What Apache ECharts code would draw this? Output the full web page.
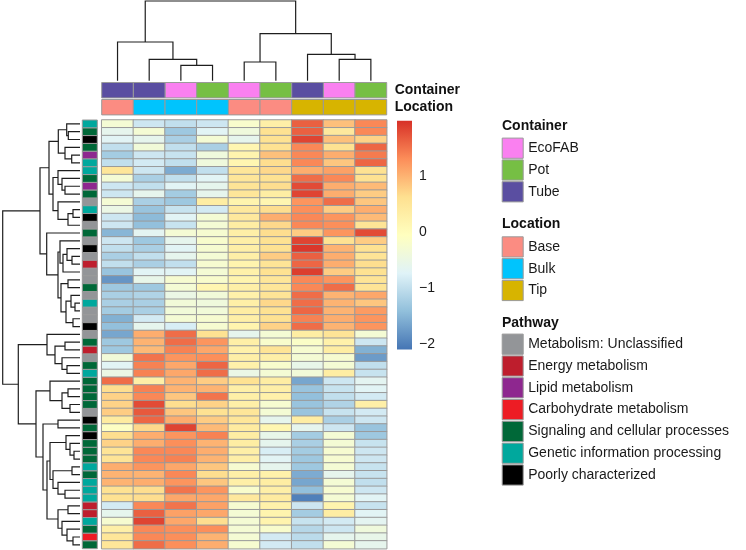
<!DOCTYPE html>
<html><head><meta charset="utf-8">
<script src="https://cdn.jsdelivr.net/npm/echarts@6/dist/echarts.min.js"></script>
<style>html,body{margin:0;padding:0;background:#fff}#c{width:746px;height:550px}</style>
</head><body><div id="c"></div>
<script>
const FONT = 'Liberation Sans, Arial, Helvetica, sans-serif';

// ---- data ----
const columns = ['Tube_Base','Tube_Bulk','EcoFAB_Bulk','Pot_Bulk','EcoFAB_Base','Pot_Base','Tube_Tip','EcoFAB_Tip','Pot_Tip'];
const colContainer = ['Tube','Tube','EcoFAB','Pot','EcoFAB','Pot','Tube','EcoFAB','Pot'];
const colLocation = ['Base','Bulk','Bulk','Bulk','Base','Base','Tip','Tip','Tip'];
const annotRows = ['Container','Location'];

const containerNames = ['EcoFAB','Pot','Tube'];
const containerColors = ['#FA80F0','#76BF44','#5A4EA1'];
const locationNames = ['Base','Bulk','Tip'];
const locationColors = ['#FB8C82','#00C4FD','#D7B400'];
const pathwayNames = ['Metabolism: Unclassified','Energy metabolism','Lipid metabolism','Carbohydrate metabolism','Signaling and cellular processes','Genetic information processing','Poorly characterized'];
const pathwayColors = ['#939598','#BE1E2D','#8E278F','#ED1C24','#006838','#00A89D','#000000'];

// pathway index of each heatmap row (top to bottom)
const rowPathway = [5,4,6,4,2,5,5,4,2,4, 0,5,6,0,4,0,6,0,1,0, 0,4,0,5,0,0,6,0,4,1, 0,4,5,4,4,4,4,0,6,4, 6,4,4,4,5,4,5,5,5,1, 1,5,4,3,4];

// scaled values, one row per feature, columns in display order
const heatValues = [
 [-0.3,-0.9,-1.0,-0.9,-0.2,0.3,1.65,0.9,1.35],
 [-0.6,-0.3,-1.3,-0.7,-0.4,0.6,1.65,0.45,1.35],
 [-0.7,-0.6,-1.2,-0.3,-0.6,0.6,1.85,0.9,0.75],
 [-1.0,-0.35,-1.0,-1.2,0.15,0.6,1.35,0.6,1.6],
 [-1.25,-0.9,-0.95,-0.4,0.2,0.9,1.35,1.05,1.45],
 [-1.0,-0.85,-1.0,-0.4,0.15,0.65,1.35,0.85,1.6],
 [0.5,-0.9,-1.6,-1.0,0.5,0.7,1.05,1.15,0.6],
 [-0.3,-1.2,-1.0,-0.7,0.5,0.6,1.55,1.35,0.6],
 [-0.9,-1.0,-0.7,-0.6,0.55,0.65,1.8,1.05,0.95],
 [-0.9,-0.6,-1.25,-0.6,0.5,0.35,1.85,1.05,0.8],
 [-0.3,-1.2,-1.3,0.35,0.2,0.15,1.25,1.55,0.85],
 [-0.5,-1.35,-0.95,-0.85,0.45,0.65,1.3,0.8,1.05],
 [-0.9,-1.45,-0.7,-0.3,0.45,1.05,1.35,1.25,0.95],
 [-0.9,-1.4,-0.95,-0.3,0.35,0.7,1.35,1.3,0.55],
 [-1.5,-0.65,-0.3,-0.25,0.3,0.65,0.8,1.25,1.8],
 [-0.9,-1.3,-0.6,-0.2,0.3,0.6,1.85,0.6,0.8],
 [-1.0,-1.2,-0.7,-0.25,0.3,0.6,1.95,1.0,0.6],
 [-1.2,-1.0,-0.6,-0.3,0.3,0.8,1.65,1.05,0.55],
 [-1.0,-1.2,-1.0,-0.25,0.2,0.55,1.6,1.05,0.65],
 [-1.35,-0.7,-0.7,-0.3,0.25,0.6,1.9,0.8,0.6],
 [-1.8,-0.55,-0.25,-0.2,0.2,0.5,1.35,1.25,0.55],
 [-1.3,-1.3,-0.3,0.15,0.3,0.5,1.35,1.55,0.55],
 [-1.2,-1.15,-0.5,-0.35,0.25,0.55,1.55,1.0,1.1],
 [-1.2,-1.2,-0.35,-0.4,0.3,0.7,1.55,1.0,0.85],
 [-1.25,-1.2,-0.35,-0.35,0.35,0.6,1.6,1.0,1.2],
 [-1.55,-0.85,-0.3,-0.25,0.3,0.6,1.4,1.05,1.25],
 [-1.4,-0.6,-0.8,-0.25,0.2,0.75,1.55,1.0,1.25],
 [-1.65,1.05,1.55,0.6,-0.6,-0.3,0.35,0.55,-0.3],
 [-1.3,1.0,1.55,1.25,0.3,-0.2,-0.15,0.25,-0.9],
 [-1.3,0.95,1.4,1.1,0.25,0.55,-0.25,0.35,-1.55],
 [-0.35,1.5,1.25,1.3,0.3,0.3,-0.3,-0.25,-1.75],
 [-0.7,1.4,1.1,1.6,0.25,-0.2,-0.55,-0.3,-1.0],
 [-0.5,1.4,1.1,1.55,-0.5,-0.3,-0.35,0.35,-0.95],
 [1.55,0.3,1.0,0.8,0.6,0.35,-1.65,-0.9,-0.65],
 [0.65,1.4,1.0,1.0,0.3,0.3,-1.35,-0.95,-0.7],
 [0.75,1.35,0.85,1.5,0.3,0.25,-1.4,-1.0,-0.85],
 [0.75,1.8,0.65,0.75,0.3,-0.25,-1.35,-1.15,0.3],
 [0.8,1.7,0.85,0.6,0.5,-0.3,-1.35,-0.95,-0.85],
 [0.4,1.6,1.05,0.8,0.5,-0.6,0.35,-1.2,-0.9],
 [-0.1,0.7,1.85,0.95,0.4,0.15,-0.6,-0.9,-1.35],
 [0.65,1.05,1.25,1.4,0.35,-0.55,-1.25,-0.3,-1.3],
 [0.75,1.05,1.3,1.0,0.35,-0.6,-1.2,-0.3,-0.95],
 [0.55,1.35,1.35,1.05,0.3,-0.8,-1.25,-0.25,-0.9],
 [0.55,1.35,1.4,1.0,0.3,-0.7,-1.3,-0.25,-0.9],
 [1.05,1.25,1.1,0.85,-0.25,-0.6,-1.3,-0.3,-0.95],
 [1.0,1.0,1.35,0.65,0.3,0.25,-1.6,-0.6,-0.95],
 [1.0,1.05,1.25,0.85,0.3,0.35,-1.65,-0.3,-1.0],
 [0.6,0.65,1.5,1.25,-0.2,0.3,-1.4,-0.25,-0.9],
 [0.6,0.65,1.1,1.1,0.45,0.4,-2.0,-0.3,-0.7],
 [-0.85,1.35,1.5,1.15,-0.25,0.25,-0.9,0.2,-0.95],
 [-0.6,1.65,1.15,1.1,-0.3,0.2,-1.25,0.35,-0.7],
 [-0.25,1.85,1.1,0.65,-0.3,0.2,-0.95,-0.85,-0.65],
 [0.3,1.35,1.3,1.3,-0.3,-0.2,-1.1,-0.9,-0.4],
 [0.5,1.35,1.3,1.0,-0.3,-0.85,-1.05,-0.6,-0.55],
 [0.5,1.55,1.3,1.05,-0.25,-0.85,-1.0,-0.3,-0.6]
];

const colorMin = -2.1, colorMax = 2.0;
const colorTicks = [-2, -1, 0, 1];
const scaleColors = ['#4575B4','#91BFDB','#E0F3F8','#FFFFBF','#FEE090','#FC8D59','#D73027'];

// dendrograms: [mergeHeight, left, right]; leaves are 1-based positions
const colTree = [79.7, [38.7, 1, [21.4, 2, [15.4, 3, 4]]], [47, [18.7, 5, 6], [26.4, 7, [21.4, 8, 9]]]];
const rowTree =
[77.3,
  [40,
    [31,
      [21.7, [13.3, 1, [11.7, 2, 3]], [15, 4, [8.3, 5, 6]]],
      [27, [22, 7, [18, 8, [15, 9, 10]]], [22, 11, [12, [7, 12, 13], 14]]]],
    [33.3, 15,
      [22,
        [20, 16, [17, [13, 17, [8, 18, 19]], 20]],
        [19, [12, 21, 22], [14, [9, 23, [5, 24, 25]], [7, 26, 27]]]]]],
  [61.7,
    [33, 28, [25, [15, 29, 30], [18, 31, [13, 32, 33]]]],
    [44,
      [30, 34, [18, [12, 35, 36], [10, 37, 38]]],
      [37, [22, 39, 40],
        [33,
          [30, [14, 41, [10, 42, [6, 43, 44]]], [27, [8, 45, 46], [22, 47, [15, 48, 49]]]],
          [22, [12, 50, 51], [18, 52, [13, 53, [7, 54, 55]]]]]]]]];

// ---- build ----
function flatten(node, out) {
  if (typeof node === 'number') return {pos: node - 0.5, h: 0};
  const a = flatten(node[1], out), b = flatten(node[2], out);
  out.push([node[0], a.pos, a.h, b.pos, b.h]);
  return {pos: (a.pos + b.pos) / 2, h: node[0]};
}
const colSegs = []; flatten(colTree, colSegs);
const rowSegs = []; flatten(rowTree, rowSegs);

const heatData = [];
heatValues.forEach((row, r) => row.forEach((v, c) => heatData.push([c, r, v])));
const rowNames = heatValues.map((_, i) => 'r' + (i + 1));

const LINE = '#1e1e1e';
function colDendro(params, api) {
  const h = api.value(0), p1 = api.value(1), h1 = api.value(2), p2 = api.value(3), h2 = api.value(4);
  return {type: 'polyline', shape: {points: [api.coord([p1, h1]), api.coord([p1, h]), api.coord([p2, h]), api.coord([p2, h2])]},
    style: {stroke: LINE, lineWidth: 1.2, fill: null}};
}
function rowDendro(params, api) {
  const h = api.value(0), p1 = api.value(1), h1 = api.value(2), p2 = api.value(3), h2 = api.value(4);
  return {type: 'polyline', shape: {points: [api.coord([h1, p1]), api.coord([h, p1]), api.coord([h, p2]), api.coord([h2, p2])]},
    style: {stroke: LINE, lineWidth: 1.2, fill: null}};
}
function colAnnotCell(params, api) {
  const c = api.value(0), r = api.value(1);
  const a = api.coord([c, r]), b = api.coord([c + 1, r]);
  const bh = api.size([0, 1])[1];
  return {type: 'rect', shape: {x: a[0], y: a[1] - bh / 2 + 0.8, width: b[0] - a[0], height: bh - 1.6},
    style: {fill: api.visual('color'), stroke: '#9a9a9a', lineWidth: 1}};
}
function rowAnnotCell(params, api) {
  const r = api.value(1);
  const a = api.coord([0, r]), b = api.coord([1, r + 1]);
  return {type: 'rect', shape: {x: a[0], y: a[1], width: b[0] - a[0], height: b[1] - a[1]},
    style: {fill: api.visual('color'), stroke: '#9a9a9a', lineWidth: 1}};
}

const series = [];
series.push({
  type: 'heatmap', xAxisIndex: 0, yAxisIndex: 0, data: heatData,
  itemStyle: {borderColor: '#9a9a9a', borderWidth: 1},
  emphasis: {disabled: true}, progressive: 0
});
containerNames.forEach((n, i) => series.push({
  type: 'custom', name: n, xAxisIndex: 1, yAxisIndex: 1, renderItem: colAnnotCell,
  itemStyle: {color: containerColors[i]},
  data: colContainer.map((v, c) => v === n ? [c, 0] : null).filter(d => d)
}));
locationNames.forEach((n, i) => series.push({
  type: 'custom', name: n, xAxisIndex: 1, yAxisIndex: 1, renderItem: colAnnotCell,
  itemStyle: {color: locationColors[i]},
  data: colLocation.map((v, c) => v === n ? [c, 1] : null).filter(d => d)
}));
pathwayNames.forEach((n, i) => series.push({
  type: 'custom', name: n, xAxisIndex: 2, yAxisIndex: 2, renderItem: rowAnnotCell,
  itemStyle: {color: pathwayColors[i]},
  data: rowPathway.map((v, r) => v === i ? [0, r] : null).filter(d => d)
}));
series.push({type: 'custom', xAxisIndex: 3, yAxisIndex: 3, renderItem: colDendro, data: colSegs, silent: true});
series.push({type: 'custom', xAxisIndex: 4, yAxisIndex: 4, renderItem: rowDendro, data: rowSegs, silent: true});
series.push({
  type: 'custom', xAxisIndex: 5, yAxisIndex: 5, silent: true, data: [[0, colorMin, colorMax]],
  renderItem: (params, api) => {
    const top = api.coord([0, api.value(2)]), bot = api.coord([1, api.value(1)]);
    const stops = scaleColors.slice().reverse().map((c, i) => ({offset: i / (scaleColors.length - 1), color: c}));
    return {type: 'rect', shape: {x: top[0], y: top[1], width: bot[0] - top[0], height: bot[1] - top[1]},
      style: {fill: new echarts.graphic.LinearGradient(0, 0, 0, 1, stops)}};
  }
});

const hid = {show: false};
const legendCommon = {
  orient: 'vertical', left: 501.7, padding: 0, itemWidth: 21, itemHeight: 20.2, itemGap: 0.6,
  icon: 'rect', selectedMode: false,
  itemStyle: {borderColor: '#9a9a9a', borderWidth: 1},
  textStyle: {fontSize: 14, color: '#1a1a1a', fontFamily: FONT}
};
const titleStyle = {fontSize: 14, fontWeight: 'bold', color: '#111', fontFamily: FONT};

const option = {
  animation: false,
  backgroundColor: '#fff',
  textStyle: {fontFamily: FONT},
  title: [
    {text: 'Container', left: 502, top: 119, padding: 0, textStyle: titleStyle},
    {text: 'Location', left: 502, top: 217.3, padding: 0, textStyle: titleStyle},
    {text: 'Pathway', left: 502, top: 316, padding: 0, textStyle: titleStyle}
  ],
  legend: [
    Object.assign({data: containerNames, top: 137.6}, legendCommon),
    Object.assign({data: locationNames, top: 236.3}, legendCommon),
    Object.assign({data: pathwayNames, top: 333.6}, legendCommon)
  ],
  visualMap: [{type: 'continuous', show: false, seriesIndex: 0, min: colorMin, max: colorMax, inRange: {color: scaleColors}}],
  grid: [
    {left: 101.7, top: 120, width: 285, height: 428.7},
    {left: 101.7, top: 81.7, width: 285, height: 34},
    {left: 82.3, top: 120, width: 15, height: 428.7},
    {left: 101.7, top: 1, width: 285, height: 79.7},
    {left: 2.7, top: 120, width: 77.3, height: 428.7},
    {left: 397, top: 120.7, width: 15, height: 228.8}
  ],
  xAxis: [
    {type: 'category', gridIndex: 0, data: columns, show: false},
    {type: 'value', gridIndex: 1, min: 0, max: 9, show: false},
    {type: 'value', gridIndex: 2, min: 0, max: 1, show: false},
    {type: 'value', gridIndex: 3, min: 0, max: 9, show: false},
    {type: 'value', gridIndex: 4, min: 0, max: 77.3, inverse: true, show: false},
    {type: 'value', gridIndex: 5, min: 0, max: 1, show: false}
  ],
  yAxis: [
    {type: 'category', gridIndex: 0, data: rowNames, inverse: true, show: false},
    {type: 'category', gridIndex: 1, data: annotRows, inverse: true, position: 'right',
      axisLine: hid, axisTick: hid, splitLine: hid,
      axisLabel: {interval: 0, margin: 8, fontSize: 14, fontWeight: 'bold', color: '#111', fontFamily: FONT}},
    {type: 'value', gridIndex: 2, min: 0, max: 55, inverse: true, show: false},
    {type: 'value', gridIndex: 3, min: 0, max: 79.7, show: false},
    {type: 'value', gridIndex: 4, min: 0, max: 55, inverse: true, show: false},
    {type: 'value', gridIndex: 5, min: colorMin, max: colorMax, position: 'right',
      axisLine: hid, axisTick: hid, splitLine: hid,
      axisLabel: {customValues: colorTicks, margin: 7, fontSize: 14, color: '#1a1a1a', fontFamily: FONT,
        formatter: v => String(v).replace('-', '\u2212')}}
  ],
  series: series
};
const chart = echarts.init(document.getElementById('c'), null, {renderer: 'canvas', width: 746, height: 550});
chart.setOption(option);
</script>
</body></html>
